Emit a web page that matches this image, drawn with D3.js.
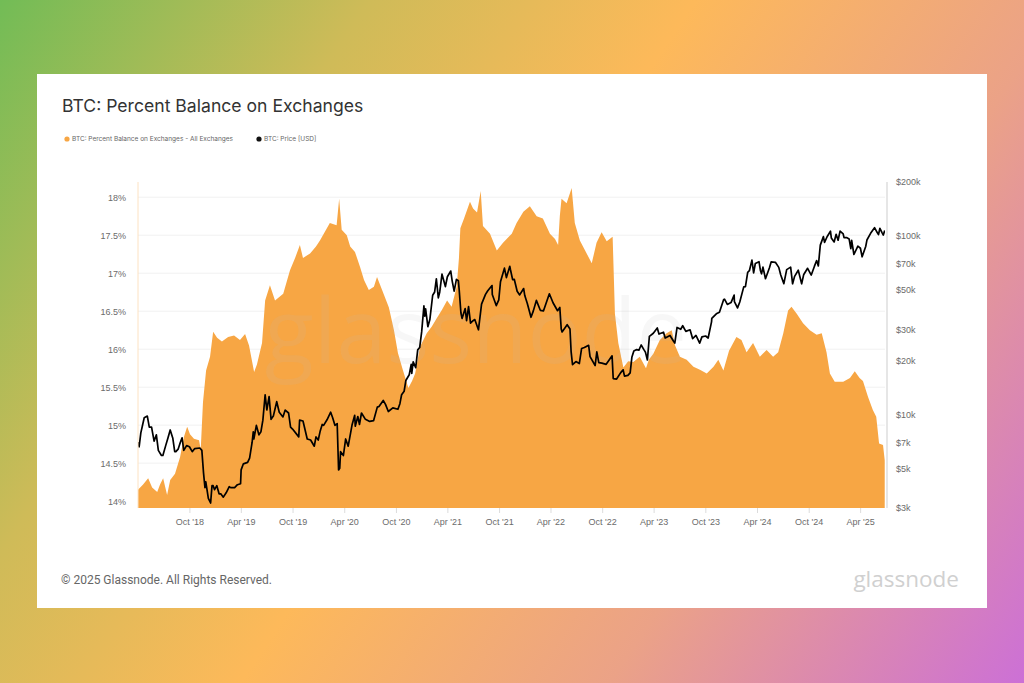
<!DOCTYPE html>
<html>
<head>
<meta charset="utf-8">
<script src="https://cdn.jsdelivr.net/npm/d3@7"></script>
<style>
    body { margin: 0; overflow: hidden; }
    svg { display: block; font-family: Inter, 'Noto Sans', sans-serif; }
    .axis text { fill: #6b6b6b; font-size: 9px; }
    .axis .domain { display: none; }
    .xaxis line { stroke: #dcdcdc; }
</style>
</head>
<body>
<div id="chart"></div>
<script>
// percent of supply held on exchanges
var balance = [
    ['2018-04-02', 14.15], ['2018-04-20', 14.22], ['2018-05-08', 14.30], ['2018-05-22', 14.18],
    ['2018-06-09', 14.12], ['2018-06-19', 14.22], ['2018-06-30', 14.30], ['2018-07-14', 14.08],
    ['2018-07-25', 14.28], ['2018-08-11', 14.36], ['2018-08-29', 14.58], ['2018-09-12', 14.85],
    ['2018-09-23', 14.98], ['2018-10-03', 14.88], ['2018-10-17', 14.82], ['2018-11-04', 14.80],
    ['2018-11-10', 14.68], ['2018-11-18', 15.30], ['2018-11-29', 15.72], ['2018-12-13', 15.90],
    ['2018-12-24', 16.23], ['2019-01-07', 16.15], ['2019-01-24', 16.10], ['2019-02-15', 16.16],
    ['2019-03-08', 16.18], ['2019-03-29', 16.12], ['2019-04-16', 16.20], ['2019-04-30', 16.05],
    ['2019-05-18', 15.70], ['2019-05-28', 15.80], ['2019-06-15', 16.08], ['2019-06-26', 16.64],
    ['2019-07-13', 16.84], ['2019-07-31', 16.64], ['2019-08-29', 16.73], ['2019-09-22', 17.04],
    ['2019-10-10', 17.20], ['2019-10-27', 17.37], ['2019-11-07', 17.20], ['2019-12-02', 17.26],
    ['2019-12-23', 17.35], ['2020-01-06', 17.43], ['2020-01-24', 17.55], ['2020-02-10', 17.66],
    ['2020-03-05', 17.63], ['2020-03-14', 17.98], ['2020-03-23', 17.57], ['2020-04-10', 17.50],
    ['2020-04-22', 17.35], ['2020-05-09', 17.28], ['2020-05-27', 17.08], ['2020-06-10', 16.91],
    ['2020-06-27', 16.78], ['2020-07-15', 16.82], ['2020-07-26', 16.95], ['2020-08-13', 16.78],
    ['2020-09-06', 16.55], ['2020-09-24', 16.25], ['2020-10-08', 15.95], ['2020-10-26', 15.72],
    ['2020-11-14', 15.49], ['2020-11-27', 15.58], ['2020-12-08', 15.68], ['2020-12-25', 16.03],
    ['2021-01-18', 16.21], ['2021-02-05', 16.30], ['2021-02-23', 16.41], ['2021-03-13', 16.52],
    ['2021-03-31', 16.64], ['2021-04-16', 16.56], ['2021-05-04', 16.82], ['2021-05-12', 17.20],
    ['2021-05-17', 17.59], ['2021-05-30', 17.72], ['2021-06-20', 17.94], ['2021-07-01', 17.85],
    ['2021-07-15', 17.80], ['2021-07-28', 18.08], ['2021-08-05', 17.62], ['2021-08-30', 17.52],
    ['2021-09-23', 17.30], ['2021-10-15', 17.40], ['2021-11-15', 17.52], ['2021-12-02', 17.66],
    ['2021-12-26', 17.81], ['2022-01-18', 17.88], ['2022-02-11', 17.75], ['2022-03-05', 17.72],
    ['2022-03-30', 17.52], ['2022-04-17', 17.45], ['2022-04-28', 17.37], ['2022-05-04', 17.75],
    ['2022-05-10', 17.98], ['2022-05-28', 17.92], ['2022-06-15', 18.12], ['2022-06-26', 17.66],
    ['2022-07-14', 17.43], ['2022-08-07', 17.26], ['2022-08-25', 17.13], ['2022-09-11', 17.40],
    ['2022-09-29', 17.54], ['2022-10-17', 17.42], ['2022-11-07', 17.48], ['2022-11-15', 16.47],
    ['2022-11-27', 16.08], ['2022-12-15', 15.76], ['2023-01-01', 15.84], ['2023-01-19', 15.83],
    ['2023-02-11', 15.90], ['2023-03-05', 15.75], ['2023-03-15', 15.86], ['2023-03-31', 15.94],
    ['2023-04-23', 16.12], ['2023-05-17', 16.21], ['2023-06-04', 16.25], ['2023-06-16', 16.05],
    ['2023-07-03', 15.90], ['2023-07-27', 15.86], ['2023-08-20', 15.77], ['2023-09-12', 15.73],
    ['2023-10-06', 15.68], ['2023-10-30', 15.77], ['2023-11-16', 15.86], ['2023-12-04', 15.72],
    ['2023-12-24', 15.98], ['2024-01-19', 16.16], ['2024-02-06', 16.12], ['2024-02-24', 15.96],
    ['2024-03-18', 16.08], ['2024-04-11', 15.90], ['2024-05-05', 15.99], ['2024-05-28', 15.90],
    ['2024-06-15', 15.96], ['2024-07-03', 16.21], ['2024-07-20', 16.51], ['2024-08-01', 16.56],
    ['2024-08-19', 16.47], ['2024-09-11', 16.34], ['2024-10-05', 16.25], ['2024-10-29', 16.19],
    ['2024-11-16', 16.21], ['2024-12-03', 15.96], ['2024-12-15', 15.68], ['2025-01-01', 15.57],
    ['2025-01-31', 15.57], ['2025-02-24', 15.62], ['2025-03-13', 15.71], ['2025-03-30', 15.62],
    ['2025-04-11', 15.58], ['2025-04-29', 15.37], ['2025-05-16', 15.20], ['2025-05-28', 15.11],
    ['2025-06-07', 14.76], ['2025-06-21', 14.74], ['2025-06-27', 14.54]
]

// BTC price in USD
var price = [
    ['2018-04-02', 7000], ['2018-04-06', 6600], ['2018-04-12', 7900], ['2018-04-24', 9600],
    ['2018-05-05', 9800], ['2018-05-12', 8500], ['2018-05-20', 8500], ['2018-05-29', 7100],
    ['2018-06-06', 7700], ['2018-06-13', 6300], ['2018-06-24', 5900], ['2018-06-29', 5900],
    ['2018-07-09', 6700], ['2018-07-17', 7400], ['2018-07-25', 8200], ['2018-08-03', 7400],
    ['2018-08-10', 6200], ['2018-08-14', 6200], ['2018-08-22', 6400], ['2018-08-30', 7000],
    ['2018-09-05', 7400], ['2018-09-11', 6300], ['2018-09-21', 6700], ['2018-10-01', 6600],
    ['2018-10-11', 6200], ['2018-10-20', 6450], ['2018-11-07', 6500], ['2018-11-14', 6300],
    ['2018-11-20', 4700], ['2018-11-25', 3900], ['2018-11-28', 4200], ['2018-12-07', 3400],
    ['2018-12-15', 3200], ['2018-12-20', 4000], ['2018-12-24', 4000], ['2018-12-29', 3800],
    ['2019-01-06', 4000], ['2019-01-14', 3600], ['2019-01-20', 3600], ['2019-01-29', 3450],
    ['2019-02-08', 3650], ['2019-02-19', 3950], ['2019-02-24', 3900], ['2019-03-10', 3900],
    ['2019-03-20', 4050], ['2019-03-31', 4100], ['2019-04-02', 4900], ['2019-04-10', 5300],
    ['2019-04-25', 5400], ['2019-05-02', 5700], ['2019-05-11', 7000], ['2019-05-15', 8000],
    ['2019-05-17', 7300], ['2019-05-26', 8700], ['2019-06-04', 7700], ['2019-06-11', 8000],
    ['2019-06-18', 9300], ['2019-06-26', 12900], ['2019-07-02', 10600], ['2019-07-10', 12600],
    ['2019-07-17', 9400], ['2019-07-25', 9800], ['2019-08-06', 11800], ['2019-08-15', 10300],
    ['2019-08-28', 9700], ['2019-09-05', 10600], ['2019-09-17', 10200], ['2019-09-24', 8500],
    ['2019-10-01', 8300], ['2019-10-23', 7500], ['2019-10-26', 9300], ['2019-11-07', 9200],
    ['2019-11-22', 7300], ['2019-12-04', 7200], ['2019-12-17', 6650], ['2019-12-23', 7500],
    ['2019-12-31', 7200], ['2020-01-07', 8100], ['2020-01-14', 8800], ['2020-01-19', 8700],
    ['2020-01-31', 9350], ['2020-02-13', 10300], ['2020-02-20', 9600], ['2020-02-28', 8700],
    ['2020-03-07', 8900], ['2020-03-12', 4900], ['2020-03-16', 5000], ['2020-03-19', 6200],
    ['2020-03-29', 5900], ['2020-04-06', 7300], ['2020-04-15', 6650], ['2020-04-29', 8800],
    ['2020-05-08', 9900], ['2020-05-10', 8600], ['2020-05-19', 9750], ['2020-05-25', 8800],
    ['2020-06-01', 10200], ['2020-06-15', 9400], ['2020-06-30', 9150], ['2020-07-14', 9250],
    ['2020-07-27', 11000], ['2020-08-02', 11100], ['2020-08-17', 12000], ['2020-08-25', 11400],
    ['2020-09-04', 10400], ['2020-09-20', 10900], ['2020-10-08', 10700], ['2020-10-15', 11500],
    ['2020-10-21', 12900], ['2020-10-30', 13500], ['2020-11-05', 15500], ['2020-11-17', 16700],
    ['2020-11-24', 19100], ['2020-11-26', 17000], ['2020-12-01', 19700], ['2020-12-10', 18300],
    ['2020-12-17', 23000], ['2020-12-24', 23700], ['2020-12-31', 29000], ['2021-01-08', 40500],
    ['2021-01-11', 35500], ['2021-01-14', 39000], ['2021-01-22', 31000], ['2021-01-29', 34000],
    ['2021-02-08', 46500], ['2021-02-15', 48500], ['2021-02-21', 57500], ['2021-02-28', 45000],
    ['2021-03-05', 48500], ['2021-03-13', 61000], ['2021-03-25', 52000], ['2021-04-01', 59000],
    ['2021-04-13', 63500], ['2021-04-18', 56000], ['2021-04-25', 49000], ['2021-05-03', 57000],
    ['2021-05-10', 56000], ['2021-05-13', 49500], ['2021-05-19', 37000], ['2021-05-23', 34500],
    ['2021-06-03', 39200], ['2021-06-08', 33500], ['2021-06-15', 40200], ['2021-06-22', 32500],
    ['2021-07-01', 33500], ['2021-07-07', 34000], ['2021-07-20', 29800], ['2021-07-31', 41500],
    ['2021-08-14', 47000], ['2021-08-22', 49300], ['2021-09-06', 52700], ['2021-09-07', 46900],
    ['2021-09-21', 40700], ['2021-09-30', 43800], ['2021-10-06', 55300], ['2021-10-20', 65900],
    ['2021-10-27', 58400], ['2021-11-08', 67500], ['2021-11-10', 65000], ['2021-11-18', 56900],
    ['2021-11-24', 57000], ['2021-12-04', 49000], ['2021-12-13', 46700], ['2021-12-27', 50700],
    ['2021-12-31', 46300], ['2022-01-09', 41800], ['2022-01-22', 35000], ['2022-01-30', 37900],
    ['2022-02-10', 43500], ['2022-02-24', 38300], ['2022-03-07', 38000], ['2022-03-28', 47400],
    ['2022-04-10', 42200], ['2022-04-26', 38100], ['2022-05-04', 39700], ['2022-05-09', 30100],
    ['2022-05-12', 29000], ['2022-05-30', 31800], ['2022-06-09', 30100], ['2022-06-13', 22500],
    ['2022-06-18', 19000], ['2022-06-30', 19800], ['2022-07-12', 19300], ['2022-07-20', 23400],
    ['2022-07-30', 23700], ['2022-08-14', 24400], ['2022-08-19', 21100], ['2022-09-06', 18800],
    ['2022-09-12', 22400], ['2022-09-19', 19500], ['2022-09-30', 19400], ['2022-10-15', 19100],
    ['2022-10-25', 20100], ['2022-11-05', 21300], ['2022-11-09', 15900], ['2022-11-21', 15800],
    ['2022-12-05', 17100], ['2022-12-14', 17800], ['2022-12-19', 16400], ['2022-12-31', 16550],
    ['2023-01-08', 17100], ['2023-01-14', 20900], ['2023-01-21', 22700], ['2023-01-31', 23100],
    ['2023-02-08', 22950], ['2023-02-16', 24500], ['2023-02-25', 23150], ['2023-03-03', 22350],
    ['2023-03-10', 20200], ['2023-03-17', 27400], ['2023-03-31', 28500], ['2023-04-14', 30500],
    ['2023-04-20', 28200], ['2023-05-06', 28900], ['2023-05-12', 26800], ['2023-05-29', 27700],
    ['2023-06-10', 25800], ['2023-06-15', 25100], ['2023-06-23', 30700], ['2023-07-06', 30000],
    ['2023-07-13', 31400], ['2023-07-24', 29200], ['2023-08-08', 29800], ['2023-08-17', 26600],
    ['2023-08-29', 27700], ['2023-09-11', 25100], ['2023-09-19', 27200], ['2023-10-02', 27500],
    ['2023-10-11', 26800], ['2023-10-23', 33000], ['2023-10-24', 34500], ['2023-11-09', 36600],
    ['2023-11-20', 37400], ['2023-12-05', 44000], ['2023-12-08', 44200], ['2023-12-18', 41300],
    ['2023-12-31', 42300], ['2024-01-11', 46600], ['2024-01-12', 42800], ['2024-01-23', 39500],
    ['2024-01-31', 42600], ['2024-02-14', 51800], ['2024-02-20', 52000], ['2024-02-28', 62500],
    ['2024-03-05', 63800], ['2024-03-14', 73100], ['2024-03-20', 62000], ['2024-03-26', 70000],
    ['2024-04-08', 71600], ['2024-04-13', 64000], ['2024-04-17', 61300], ['2024-04-22', 66800],
    ['2024-05-01', 57500], ['2024-05-15', 66200], ['2024-05-21', 71400], ['2024-06-05', 71100],
    ['2024-06-17', 66600], ['2024-06-24', 60300], ['2024-07-05', 54000], ['2024-07-15', 64700],
    ['2024-07-29', 66800], ['2024-08-05', 53900], ['2024-08-12', 59300], ['2024-08-25', 64200],
    ['2024-09-06', 53900], ['2024-09-13', 60500], ['2024-09-27', 65800], ['2024-10-10', 60300],
    ['2024-10-21', 67400], ['2024-10-29', 72700], ['2024-11-04', 67800], ['2024-11-11', 88700],
    ['2024-11-22', 98900], ['2024-11-26', 91900], ['2024-12-05', 98800], ['2024-12-17', 106100],
    ['2024-12-20', 97300], ['2024-12-30', 92400], ['2025-01-06', 102000], ['2025-01-13', 94500],
    ['2025-01-20', 106200], ['2025-01-31', 102400], ['2025-02-03', 97700], ['2025-02-12', 97800],
    ['2025-02-21', 96100], ['2025-02-27', 84700], ['2025-03-02', 94300], ['2025-03-10', 78600],
    ['2025-03-24', 87500], ['2025-04-02', 85200], ['2025-04-08', 76300], ['2025-04-21', 87500],
    ['2025-04-25', 94700], ['2025-05-08', 103200], ['2025-05-22', 111000], ['2025-05-31', 104600],
    ['2025-06-05', 101500], ['2025-06-10', 110200], ['2025-06-17', 104600], ['2025-06-22', 101000],
    ['2025-06-27', 107200]
]

var percentTicks = [14, 14.5, 15, 15.5, 16, 16.5, 17, 17.5, 18]
var priceTicks = [3000, 5000, 7000, 10000, 20000, 30000, 50000, 70000, 100000, 200000]
var dateTicks = ['2018-10-01', '2019-04-01', '2019-10-01', '2020-04-01', '2020-10-01', '2021-04-01', '2021-10-01',
    '2022-04-01', '2022-10-01', '2023-04-01', '2023-10-01', '2024-04-01', '2024-10-01', '2025-04-01']
var dateRange = ['2018-04-02', '2025-06-28']
var percentRange = [13.91, 18.2]
var priceRange = [3000, 200000]

var title = 'BTC: Percent Balance on Exchanges'
var legend = [
    { label: 'BTC: Percent Balance on Exchanges - All Exchanges', color: '#f7a644' },
    { label: 'BTC: Price [USD]', color: '#111' }
]

var layout = {
    width: 1024, height: 683,
    card: { x: 37, y: 74, w: 950, h: 534 },
    plot: { left: 138, right: 885, top: 182, bottom: 508 }
}

var parse = d3.timeParse('%Y-%m-%d')
var balanceData = balance.map(function (d) { return { date: parse(d[0]), value: d[1] } })
var priceData = price.map(function (d) { return { date: parse(d[0]), value: d[1] } })

var svg = d3.select('#chart').append('svg')
    .attr('width', layout.width)
    .attr('height', layout.height)

// page background
var defs = svg.append('defs')
var grad = defs.append('linearGradient')
    .attr('id', 'bg')
    .attr('gradientUnits', 'userSpaceOnUse')
    .attr('x1', 0).attr('y1', 0).attr('x2', 1024).attr('y2', 683)
grad.append('stop').attr('offset', 0).attr('stop-color', '#72bc56')
grad.append('stop').attr('offset', 0.25).attr('stop-color', '#cfbb58')
grad.append('stop').attr('offset', 0.47).attr('stop-color', '#fdb95a')
grad.append('stop').attr('offset', 0.72).attr('stop-color', '#eba287')
grad.append('stop').attr('offset', 1).attr('stop-color', '#cc70d6')

svg.append('rect').attr('width', layout.width).attr('height', layout.height).attr('fill', 'url(#bg)')

var card = layout.card
svg.append('rect')
    .attr('x', card.x).attr('y', card.y)
    .attr('width', card.w).attr('height', card.h)
    .attr('fill', '#fff')

defs.append('clipPath').attr('id', 'plotclip').append('rect')
    .attr('x', layout.plot.left).attr('y', layout.plot.top - 2)
    .attr('width', layout.plot.right - layout.plot.left)
    .attr('height', layout.plot.bottom - layout.plot.top + 2)

var x = d3.scaleTime()
    .domain(dateRange.map(parse))
    .range([layout.plot.left, layout.plot.right])
var yPct = d3.scaleLinear()
    .domain(percentRange)
    .range([layout.plot.bottom, layout.plot.top])
var yPrice = d3.scaleLog()
    .domain(priceRange)
    .range([layout.plot.bottom, layout.plot.top])

// title + legend
svg.append('text')
    .attr('x', 62).attr('y', 112)
    .attr('fill', '#333')
    .style('font-size', '17.6px')
    .text(title)

var legendX = [67, 259]
legend.forEach(function (item, i) {
    var g = svg.append('g').attr('transform', 'translate(' + legendX[i] + ', 139)')
    g.append('circle').attr('r', 2.6).attr('fill', item.color)
    g.append('text')
        .attr('x', 5).attr('dy', '0.35em')
        .attr('fill', '#666')
        .style('font-size', '6.5px')
        .text(item.label)
})

// grid
svg.append('g')
    .selectAll('line')
    .data(percentTicks)
    .join('line')
    .attr('x1', layout.plot.left).attr('x2', layout.plot.right)
    .attr('y1', function (d) { return yPct(d) }).attr('y2', function (d) { return yPct(d) })
    .attr('stroke', '#f1f1f1')

// balance area
var area = d3.area()
    .x(function (d) { return x(d.date) })
    .y0(layout.plot.bottom)
    .y1(function (d) { return yPct(d.value) })

svg.append('path')
    .datum(balanceData)
    .attr('clip-path', 'url(#plotclip)')
    .attr('fill', '#f7a644')
    .attr('d', area)

// watermark
svg.append('text')
    .attr('x', 476).attr('y', 363)
    .attr('text-anchor', 'middle')
    .attr('fill', '#bdbdbd')
    .attr('fill-opacity', 0.12)
    .style('font-family', "'Open Sans', sans-serif")
    .style('font-size', '90px')
    .text('glassnode')

// price line
var line = d3.line()
    .x(function (d) { return x(d.date) })
    .y(function (d) { return yPrice(d.value) })

svg.append('path')
    .datum(priceData)
    .attr('clip-path', 'url(#plotclip)')
    .attr('fill', 'none')
    .attr('stroke', '#000')
    .attr('stroke-width', 1.7)
    .attr('stroke-linejoin', 'round')
    .attr('d', line)

// axis lines
svg.append('line')
    .attr('x1', layout.plot.left).attr('x2', layout.plot.left)
    .attr('y1', layout.plot.top).attr('y2', layout.plot.bottom)
    .attr('stroke', '#fde2c2')
svg.append('line')
    .attr('x1', layout.plot.right + 2).attr('x2', layout.plot.right + 2)
    .attr('y1', layout.plot.top).attr('y2', layout.plot.bottom)
    .attr('stroke', '#dedede')
    .attr('stroke-width', 1.5)

svg.append('g')
    .attr('class', 'axis')
    .attr('transform', 'translate(' + layout.plot.left + ', 0)')
    .call(d3.axisLeft(yPct)
        .tickValues(percentTicks)
        .tickSize(0)
        .tickPadding(12)
        .tickFormat(function (d) { return d + '%' }))

svg.append('g')
    .attr('class', 'axis')
    .attr('transform', 'translate(' + (layout.plot.right + 2) + ', 0)')
    .call(d3.axisRight(yPrice)
        .tickValues(priceTicks)
        .tickSize(0)
        .tickPadding(9)
        .tickFormat(function (d) { return '$' + (d / 1000) + 'k' }))

svg.append('g')
    .attr('class', 'axis xaxis')
    .attr('transform', 'translate(0, ' + layout.plot.bottom + ')')
    .call(d3.axisBottom(x)
        .tickValues(dateTicks.map(parse))
        .tickSize(5)
        .tickPadding(6)
        .tickFormat(d3.timeFormat("%b '%y")))

// footer
svg.append('text')
    .attr('x', 61).attr('y', 584)
    .attr('fill', '#666')
    .style('font-family', 'Roboto, sans-serif')
    .style('font-size', '12px')
    .text('\u00a9 2025 Glassnode. All Rights Reserved.')

svg.append('text')
    .attr('x', 959).attr('y', 587)
    .attr('text-anchor', 'end')
    .attr('fill', '#d0d0d0')
    .style('font-family', "'Open Sans', sans-serif")
    .style('font-size', '22.5px')
    .text('glassnode')
</script>
</body>
</html>
